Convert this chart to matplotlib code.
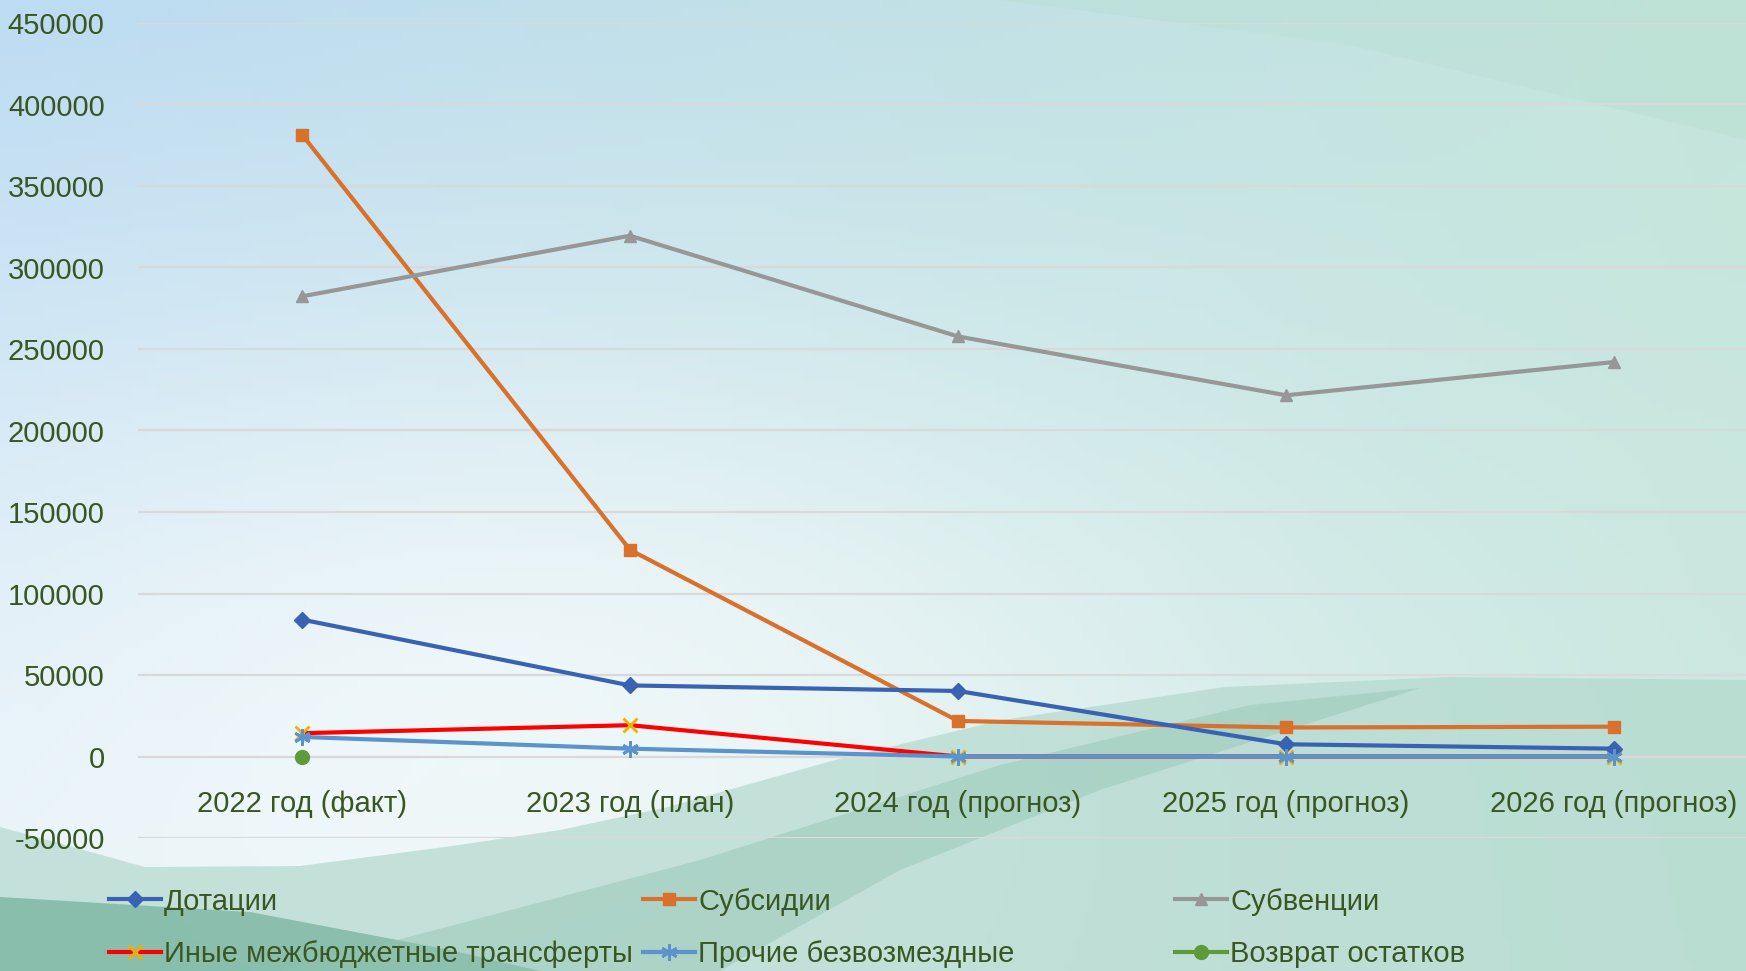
import numpy as np
import matplotlib
matplotlib.use("Agg")
import matplotlib.pyplot as plt

# ── Data ──────────────────────────────────────────────────────────────────────
years = ["2022 год (факт)", "2023 год (план)", "2024 год (прогноз)",
         "2025 год (прогноз)", "2026 год (прогноз)"]

dotacii    = [84000, 43600, 40200, 7500, 4800]
subsidii   = [381500, 126800, 21800, 17800, 18300]
subvencii  = [282300, 319500, 257700, 221600, 242000]
inye       = [14300, 19200, 0, 0, 0]
prochie    = [12000, 4800, 0, 0, 0]
vozvrat    = [0, np.nan, np.nan, np.nan, np.nan]

y_ticks = [-50000, 0, 50000, 100000, 150000, 200000, 250000,
           300000, 350000, 400000, 450000]

TEXT_COLOR = "#385723"
FS = 21
plt.rcParams["font.family"] = ["Liberation Sans", "DejaVu Sans"]

W, H = 1746, 971
fig = plt.figure(figsize=(W / 100, H / 100), dpi=100)

# ── Background (gradient + soft waves) ────────────────────────────────────────
bg = fig.add_axes([0, 0, 1, 1], zorder=0)
bg.set_xlim(0, W)
bg.set_ylim(H, 0)
bg.axis("off")

tl = np.array([0.74, 0.86, 0.95])
tr = np.array([0.77, 0.90, 0.86])
bl = np.array([0.90, 0.95, 0.97])
br = np.array([0.80, 0.91, 0.88])
gx = np.linspace(0, 1, 200)[None, :, None]
gy = np.linspace(0, 1, 120)[:, None, None]
grad = (tl * (1 - gx) * (1 - gy) + tr * gx * (1 - gy)
        + bl * (1 - gx) * gy + br * gx * gy)
glow = np.exp(-(((gx - 0.3) / 0.4) ** 2 + ((gy - 0.75) / 0.4) ** 2))
grad = grad + (1 - grad) * 0.6 * glow
bg.imshow(np.clip(grad, 0, 1), extent=[0, W, H, 0], aspect="auto")

# top-right faint band
bg.fill([1000, 1746, 1746, 1350], [0, 0, 140, 45], color="#b9dfd3", alpha=0.45, lw=0)

# light teal wave under the white bulge
ax_w = [0, 145, 300, 445, 560, 668, 835, 1002, 1225, 1448, 1746]
ay_w = [827, 867, 866, 847, 830, 807, 760, 720, 687, 677, 680]
bg.fill(ax_w + [W, 0], ay_w + [H, H], color="#b3d9cd", alpha=0.7, lw=0)
# darker teal at bottom-left
bg.fill([0, 250, 450, 540, 0], [897, 912, 950, 971, 971],
        color="#78b39d", alpha=0.75, lw=0)
# diagonal medium band, tapering to a point
bg.fill([280, 700, 1000, 1250, 1420, 1100, 900, 720],
        [971, 860, 765, 705, 688, 790, 870, 971],
        color="#92c4b2", alpha=0.45, lw=0)

# ── Chart ─────────────────────────────────────────────────────────────────────
left, right = 138, W
top, bottom = 23, 838
ax = fig.add_axes([left / W, 1 - bottom / H, (right - left) / W, (bottom - top) / H],
                  zorder=1)
ax.patch.set_alpha(0)

x = np.arange(len(years))
lw = 3.0

ax.plot(x, dotacii, color="#3a62b3", lw=lw, marker="D", ms=8,
        label="Дотации", zorder=5)
ax.plot(x, subsidii, color="#d9702b", lw=lw, marker="s", ms=9,
        label="Субсидии", zorder=4)
ax.plot(x, subvencii, color="#979797", lw=lw, marker="^", ms=9,
        label="Субвенции", zorder=4)
ax.plot(x, inye, color="#ff0000", lw=lw, marker="x", ms=10, mew=2,
        mec="#f0b000", label="Иные межбюджетные трансферты", zorder=4)
ax.plot(x, prochie, color="#5b93cc", lw=lw, marker=(6, 2, 0), ms=12, mew=2,
        label="Прочие безвозмездные", zorder=6)
ax.plot(x, vozvrat, color="#5f9a3a", lw=lw, marker="o", ms=10,
        label="Возврат остатков", zorder=3)

ax.set_xlim(-0.5, -0.5 + (right - left) / 328)
ax.set_ylim(-50000, 450000)
ax.set_yticks(y_ticks)
ax.set_yticklabels([str(v) for v in y_ticks])
ax.set_xticks(x)
ax.set_xticklabels(years)
ax.grid(axis="y", color="#d9d9d9", lw=1.6)
ax.set_axisbelow(True)

for s in ax.spines.values():
    s.set_visible(False)
ax.spines["bottom"].set_position(("data", 0))
ax.tick_params(axis="x", length=0, pad=24, labelsize=FS, labelcolor=TEXT_COLOR)
ax.tick_params(axis="y", length=0, pad=24, labelsize=FS, labelcolor=TEXT_COLOR)

# ── Legend: three columns of two rows ─────────────────────────────────────────
handles, labels = ax.get_legend_handles_labels()
columns = [(0, 3), (1, 4), (2, 5)]
col_x = [94, 628, 1160]
for (i, j), cx in zip(columns, col_x):
    fig.legend([handles[i], handles[j]], [labels[i], labels[j]],
               loc="upper left", bbox_to_anchor=(cx / W, 1 - 873 / H),
               frameon=False, fontsize=FS, handlelength=1.8,
               handletextpad=0.1, labelspacing=0.85, borderpad=0,
               labelcolor=TEXT_COLOR)

fig.savefig("out.png", dpi=100)
